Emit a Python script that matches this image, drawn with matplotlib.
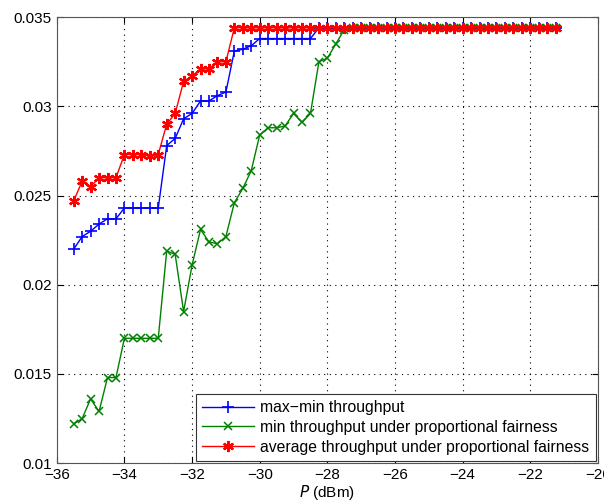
import numpy as np
import matplotlib
matplotlib.use("Agg")
import matplotlib.pyplot as plt

plt.rcParams['font.family'] = ['Liberation Sans', 'DejaVu Sans']
plt.rcParams['font.size'] = 10

# transmit power grid (dBm), one point every 0.25 dBm
P = np.arange(-35.5, -21.2, 0.25)

# max-min throughput
maxmin = [0.0220, 0.0227, 0.0230, 0.0234, 0.0237, 0.0237, 0.0243, 0.0243, 0.0243, 0.0243,
          0.0243, 0.0278, 0.0282, 0.0293, 0.0296, 0.0303, 0.0303, 0.0306, 0.0308, 0.0331,
          0.0332, 0.0334, 0.0338, 0.0338, 0.0338, 0.0338, 0.0338, 0.0338, 0.0338] + [0.0344] * 29

# min throughput under proportional fairness
pf_min = [0.0122, 0.0125, 0.0136, 0.0129, 0.0148, 0.0148, 0.0170, 0.0170, 0.0170, 0.0170,
          0.0170, 0.0219, 0.0217, 0.0185, 0.0211, 0.0231, 0.0224, 0.0223, 0.0227, 0.0246,
          0.0254, 0.0264, 0.0284, 0.0288, 0.0288, 0.0289, 0.0296, 0.0291, 0.0296, 0.0325,
          0.0327, 0.0335, 0.0343] + [0.0344] * 25

# average throughput under proportional fairness
pf_avg = [0.0247, 0.0258, 0.0255, 0.0260, 0.0260, 0.0260, 0.0273, 0.0273, 0.0273, 0.0272,
          0.0273, 0.0290, 0.0296, 0.0314, 0.0317, 0.0321, 0.0321, 0.0325, 0.0325] + [0.0344] * 39

labels = ["max\u2212min throughput",
          "min throughput under proportional fairness",
          "average throughput under proportional fairness"]

fig = plt.figure(figsize=(6.04, 5.04), dpi=100)
ax = fig.add_axes([0.094, 0.081, 0.896, 0.885])

# matlab style asterisk for the red series
asterisk = (6, 2, 0)

ax.plot(P, maxmin, color=(0, 0, 1), marker='+', markersize=8, markeredgewidth=1.2,
        linewidth=1, label=labels[0])
ax.plot(P, pf_min, color=(0, 0.5, 0), marker='x', markersize=5.5, markeredgewidth=1.1,
        linewidth=1, label=labels[1])
ax.plot(P, pf_avg, color=(1, 0, 0), marker=asterisk, markersize=8, markeredgewidth=1.6,
        linewidth=1, label=labels[2])

ax.set_xlim(-36, -20)
ax.set_ylim(0.01, 0.035)
ax.set_xticks(np.arange(-36, -19, 2))
ax.set_yticks([0.01, 0.015, 0.02, 0.025, 0.03, 0.035])
ax.set_yticklabels(["0.01", "0.015", "0.02", "0.025", "0.03", "0.035"])
ax.grid(True, color='black', linestyle=(0, (1, 4)), linewidth=0.8)
ax.tick_params(direction='in', top=True, right=True, length=4, labelsize=11)
for s in ax.spines.values():
    s.set_color('#555555')
ax.set_xlabel("$P$ (dBm)", fontsize=11, labelpad=1)

leg = ax.legend(loc='lower right', fontsize=11.3, handlelength=3.3, borderaxespad=0.15,
                fancybox=False, framealpha=1, edgecolor='#333333', labelspacing=0.3,
                borderpad=0.4, handletextpad=0.4)
leg.get_frame().set_linewidth(0.8)

fig.savefig("out.png", dpi=100)
